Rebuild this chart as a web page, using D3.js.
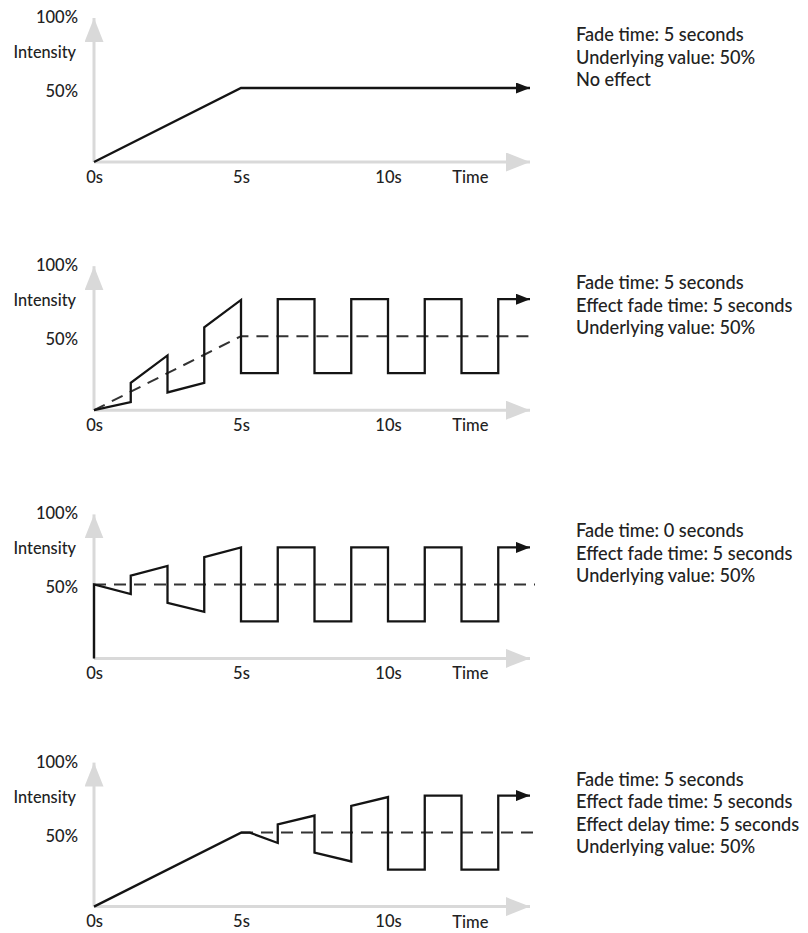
<!DOCTYPE html>
<html>
<head>
<meta charset="utf-8">
<script src="https://cdn.jsdelivr.net/npm/d3@7"></script>
<style>
  body { margin: 0; background: #fff; }
  svg text { font-family: Lato, "Open Sans", sans-serif; font-weight: 500; fill: #222; }
</style>
</head>
<body>
<div id="chart"></div>
<script>
// Données : [temps en s, intensité en %]
const xTicks = [0, 5, 10];
const yTicks = [50, 100];
const xTitle = "Time";
const yTitle = "Intensity";
const xEnd = 14.83;      // pointe de la flèche noire
const timeLabelAt = 12.8;

const output1 = [[0, 0], [5, 50], [14.83, 50]];
const under1 = [];
const notes1 = ["Fade time: 5 seconds", "Underlying value: 50%", "No effect"];

const output2 = [[0, 0], [1.25, 5.5], [1.25, 18.5], [2.5, 37], [2.5, 12], [3.75, 18.5], [3.75, 56],
  [5, 74.5], [5, 25], [6.25, 25], [6.25, 75], [7.5, 75], [7.5, 25], [8.75, 25], [8.75, 75],
  [10, 75], [10, 25], [11.25, 25], [11.25, 75], [12.5, 75], [12.5, 25], [13.75, 25], [13.75, 75], [14.83, 75]];
const under2 = [[0, 0], [5, 50], [15, 50]];
const notes2 = ["Fade time: 5 seconds", "Effect fade time: 5 seconds", "Underlying value: 50%"];

const output3 = [[0, 0], [0, 50], [1.25, 43.5], [1.25, 56], [2.5, 62.5], [2.5, 37.5], [3.75, 31.5], [3.75, 68.5],
  [5, 75], [5, 25], [6.25, 25], [6.25, 75], [7.5, 75], [7.5, 25], [8.75, 25], [8.75, 75],
  [10, 75], [10, 25], [11.25, 25], [11.25, 75], [12.5, 75], [12.5, 25], [13.75, 25], [13.75, 75], [14.83, 75]];
const under3 = [[0, 50], [15, 50]];
const notes3 = ["Fade time: 0 seconds", "Effect fade time: 5 seconds", "Underlying value: 50%"];

const output4 = [[0, 0], [5, 50], [5.3, 50], [6.25, 43], [6.25, 55.5], [7.5, 61.5], [7.5, 36.5], [8.75, 30.5], [8.75, 68],
  [10, 74], [10, 25], [11.25, 25], [11.25, 75], [12.5, 75], [12.5, 25], [13.75, 25], [13.75, 75], [14.83, 75]];
const under4 = [[5, 50], [15, 50]];
const notes4 = ["Fade time: 5 seconds", "Effect fade time: 5 seconds", "Effect delay time: 5 seconds", "Underlying value: 50%"];

const panels = [
  { output: output1, under: under1, notes: notes1 },
  { output: output2, under: under2, notes: notes2 },
  { output: output3, under: under3, notes: notes3 },
  { output: output4, under: under4, notes: notes4 }
];

// Dimensions
const width = 808;
const height = 933;
const panelStep = 248.2;
const axisColor = "#d9d9d9";

const svg = d3.select("#chart")
  .append("svg")
  .attr("width", width)
  .attr("height", height);

// Flèches
const defs = svg.append("defs");
defs.append("marker")
  .attr("id", "grayArrow")
  .attr("markerUnits", "userSpaceOnUse")
  .attr("markerWidth", 24).attr("markerHeight", 19)
  .attr("refX", 24).attr("refY", 9.5)
  .attr("orient", "auto")
  .append("path")
  .attr("d", "M0,0L24,9.5L0,19Z")
  .attr("fill", axisColor);
defs.append("marker")
  .attr("id", "blackArrow")
  .attr("markerUnits", "userSpaceOnUse")
  .attr("markerWidth", 14).attr("markerHeight", 11)
  .attr("refX", 14).attr("refY", 5.5)
  .attr("orient", "auto")
  .append("path")
  .attr("d", "M0,0L14,5.5L0,11Z")
  .attr("fill", "#141414");

// Échelles
const xScale = d3.scaleLinear().domain([0, xEnd]).range([94, 530]);
const yScale = d3.scaleLinear().domain([0, 100]).range([162, 14]);

const line = d3.line()
  .x(d => xScale(d[0]))
  .y(d => yScale(d[1]));

panels.forEach((p, i) => {
  const g = svg.append("g")
    .attr("transform", `translate(0, ${i * panelStep})`);

  // Axes gris avec flèches
  g.append("line")
    .attr("x1", xScale(0)).attr("y1", yScale(0))
    .attr("x2", xScale(xEnd)).attr("y2", yScale(0))
    .attr("stroke", axisColor).attr("stroke-width", 3)
    .attr("marker-end", "url(#grayArrow)");
  g.append("line")
    .attr("x1", xScale(0)).attr("y1", yScale(0))
    .attr("x2", xScale(0)).attr("y2", 18)
    .attr("stroke", axisColor).attr("stroke-width", 3)
    .attr("marker-end", "url(#grayArrow)");

  // Étiquettes des axes
  const xAxis = d3.axisBottom(xScale)
    .tickValues(xTicks)
    .tickFormat(d => d + "s")
    .tickSize(0)
    .tickPadding(9);
  const gx = g.append("g")
    .attr("transform", `translate(0, ${yScale(0)})`)
    .call(xAxis);
  gx.select(".domain").remove();
  gx.selectAll("text").attr("font-size", 16.5).attr("fill", null);

  const yAxis = d3.axisLeft(yScale)
    .tickValues(yTicks)
    .tickFormat(d => d + "%")
    .tickSize(0)
    .tickPadding(16);
  const gy = g.append("g")
    .attr("transform", `translate(${xScale(0)}, 0)`)
    .call(yAxis);
  gy.select(".domain").remove();
  gy.selectAll("text").attr("font-size", 16.5).attr("dy", "0.52em").attr("fill", null);

  g.append("text")
    .attr("x", 76).attr("y", 58)
    .attr("text-anchor", "end")
    .attr("font-size", 16.3)
    .text(yTitle);
  g.append("text")
    .attr("x", xScale(timeLabelAt)).attr("y", 183)
    .attr("text-anchor", "middle")
    .attr("font-size", 16.5)
    .text(xTitle);

  // Valeur sous-jacente en pointillés
  if (p.under.length) {
    g.append("path")
      .datum(p.under)
      .attr("fill", "none")
      .attr("stroke", "#333")
      .attr("stroke-width", 2)
      .attr("stroke-dasharray", "12,8")
      .attr("d", line);
  }

  // Intensité de sortie
  g.append("path")
    .datum(p.output)
    .attr("fill", "none")
    .attr("stroke", "#141414")
    .attr("stroke-width", 2.3)
    .attr("stroke-linejoin", "miter")
    .attr("marker-end", "url(#blackArrow)")
    .attr("d", line);

  // Texte de description
  g.append("g")
    .selectAll("text")
    .data(p.notes)
    .join("text")
    .attr("x", 576)
    .attr("y", (d, j) => 41 + j * 22.5)
    .attr("font-size", 18.2)
    .text(d => d);
});
</script>
</body>
</html>
